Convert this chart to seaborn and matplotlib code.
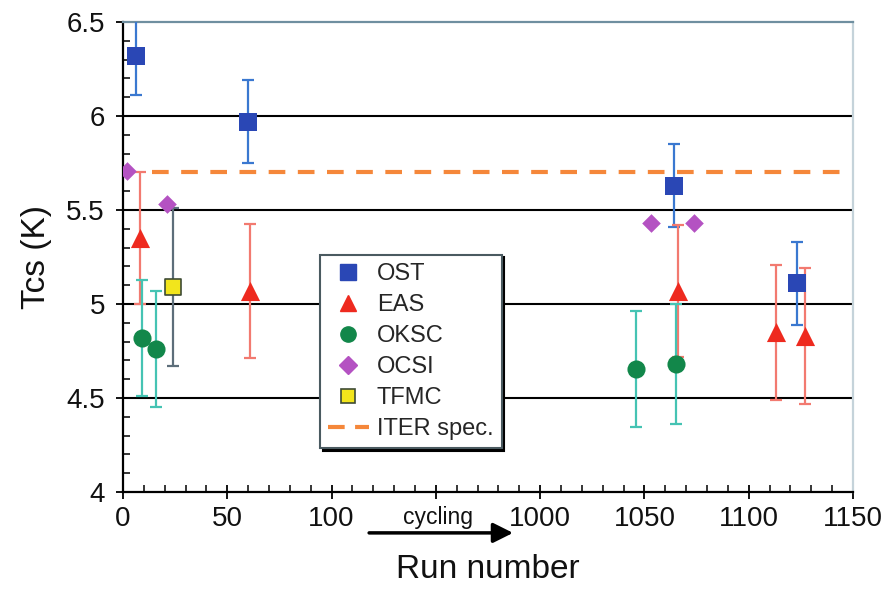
import numpy as np
import pandas as pd
import matplotlib
matplotlib.use("Agg")
import matplotlib.pyplot as plt
import seaborn as sns
from matplotlib.lines import Line2D
from matplotlib.ticker import MultipleLocator, FixedLocator, FixedFormatter

# ---------------- data (run number, Tcs, error) ----------------
ost_run = [6, 60, 1064, 1123]
ost_tcs = [6.32, 5.97, 5.63, 5.11]
ost_err = [0.21, 0.22, 0.22, 0.22]

eas_run = [8, 61, 1066, 1113, 1127]
eas_tcs = [5.35, 5.07, 5.07, 4.85, 4.83]
eas_err = [0.35, 0.355, 0.35, 0.36, 0.36]

oksc_run = [9, 16, 1046, 1065]
oksc_tcs = [4.82, 4.76, 4.655, 4.68]
oksc_err = [0.31, 0.31, 0.31, 0.32]

ocsi_run = [2, 21, 1053, 1074]
ocsi_tcs = [5.71, 5.53, 5.43, 5.43]

tfmc_run = [24]
tfmc_tcs = [5.09]
tfmc_err = [0.42]

iter_spec = 5.70

x_tick_labels = ["0", "50", "100", "", "1000", "1050", "1100", "1150"]
y_ticks = [4.0, 4.5, 5.0, 5.5, 6.0, 6.5]
y_tick_labels = ["4", "4.5", "5", "5.5", "6", "6.5"]


def brk(r):
    """Broken axis: runs above the gap are shifted down by 800."""
    r = np.asarray(r, dtype=float)
    return np.where(r <= 150, r, r - 800)


sns.set_theme(style="white")
plt.rcParams["font.family"] = ["Liberation Sans", "DejaVu Sans"]

fig = plt.figure(figsize=(8.95, 5.92), dpi=100)
ax = fig.add_axes([123 / 895, 1 - 492 / 592, (853 - 123) / 895, (492 - 22) / 592])

# grid lines
for yv in [4.5, 5.0, 5.5, 6.0]:
    ax.axhline(yv, color="black", lw=1.5, zorder=1)

# ITER spec
ax.hlines(iter_spec, 14, 350, colors="#f5873a", linestyles=(0, (4, 3)), lw=3, zorder=2)

series = [
    ("OST", ost_run, ost_tcs, ost_err, "s", "#2a47b5", "#3a78d0", "none", 150),
    ("EAS", eas_run, eas_tcs, eas_err, "^", "#ee2a1f", "#f27a70", "none", 190),
    ("OKSC", oksc_run, oksc_tcs, oksc_err, "o", "#12874a", "#45c3b3", "none", 170),
    ("OCSI", ocsi_run, ocsi_tcs, None, "D", "#b452c2", None, "none", 90),
    ("TFMC", tfmc_run, tfmc_tcs, tfmc_err, "s", "#f2e51c", "#5d6e7a", "#3e4b35", 130),
]

for name, run, tcs, err, mk, col, ecol, edge, size in series:
    xs = brk(run)
    if err is not None:
        ax.errorbar(xs, tcs, yerr=err, fmt="none", ecolor=ecol, elinewidth=1.6,
                    capsize=4, capthick=1.6, zorder=3)
    df = pd.DataFrame({"x": xs, "y": tcs})
    sns.scatterplot(data=df, x="x", y="y", marker=mk, color=col, s=size,
                    edgecolor=(edge if edge != "none" else col),
                    linewidth=(1.2 if edge != "none" else 0), ax=ax, zorder=4,
                    legend=False)

ax.set_xlim(0, 350)
ax.set_ylim(4, 6.5)

ax.xaxis.set_major_locator(FixedLocator([0, 50, 100, 150, 200, 250, 300, 350]))
ax.xaxis.set_major_formatter(FixedFormatter(x_tick_labels))
ax.xaxis.set_minor_locator(MultipleLocator(10))
ax.yaxis.set_major_locator(FixedLocator(y_ticks))
ax.yaxis.set_major_formatter(FixedFormatter(y_tick_labels))
ax.yaxis.set_minor_locator(MultipleLocator(0.1))

ax.tick_params(axis="both", which="major", direction="inout", length=10, width=1.3,
               labelsize=20, color="black", bottom=True, left=True)
ax.tick_params(axis="both", which="minor", direction="in", length=5, width=1.1,
               color="black", bottom=True, left=True)
ax.tick_params(axis="x", which="major", pad=5)
ax.tick_params(axis="y", which="major", pad=8)
for t in ax.get_xticklabels() + ax.get_yticklabels():
    t.set_color("#111111")

for s in ["left", "bottom"]:
    ax.spines[s].set_color("black")
    ax.spines[s].set_linewidth(1.6)
ax.spines["top"].set_color("#6f8fa0")
ax.spines["top"].set_linewidth(1.6)
ax.spines["right"].set_color("#c5d3da")
ax.spines["right"].set_linewidth(1.6)

ax.set_xlabel("Run number", fontsize=24, labelpad=16, color="#111111")
ax.set_ylabel("Tcs (K)", fontsize=24, labelpad=10, color="#111111")

# cycling arrow below the axis
ax.annotate("", xy=(187, -0.087), xytext=(118, -0.087),
            xycoords=("data", "axes fraction"), textcoords=("data", "axes fraction"),
            arrowprops=dict(arrowstyle="-|>,head_length=1.0,head_width=0.5",
                            color="black", lw=2.5, shrinkA=0, shrinkB=0),
            annotation_clip=False)
ax.text(151, -0.055, "cycling", transform=ax.get_xaxis_transform(), ha="center",
        va="center", fontsize=16.5, color="#111111", clip_on=False)

handles = [
    Line2D([], [], ls="none", marker="s", color="#2a47b5", markersize=11),
    Line2D([], [], ls="none", marker="^", color="#ee2a1f", markersize=12),
    Line2D([], [], ls="none", marker="o", color="#12874a", markersize=11),
    Line2D([], [], ls="none", marker="D", color="#b452c2", markersize=9),
    Line2D([], [], ls="none", marker="s", markerfacecolor="#f2e51c",
           markeredgecolor="#3e4b35", markeredgewidth=1.2, markersize=10),
    Line2D([], [], ls=(0, (4, 2.5)), color="#f5873a", lw=3),
]
labels = ["OST", "EAS", "OKSC", "OCSI", "TFMC", "ITER spec."]
leg = ax.legend(handles, labels, loc="upper left", bbox_to_anchor=(0.27, 0.505),
                fontsize=17, frameon=True, fancybox=False, handlelength=1.7,
                handletextpad=0.35, labelspacing=0.38, borderpad=0.35,
                borderaxespad=0, shadow={"color": "black", "alpha": 1, "ox": 2, "oy": -2})
leg.get_frame().set_edgecolor("#4a5a60")
leg.get_frame().set_linewidth(1.5)
leg.get_frame().set_facecolor("white")
leg.set_zorder(6)

fig.savefig("out.png", dpi=100)
